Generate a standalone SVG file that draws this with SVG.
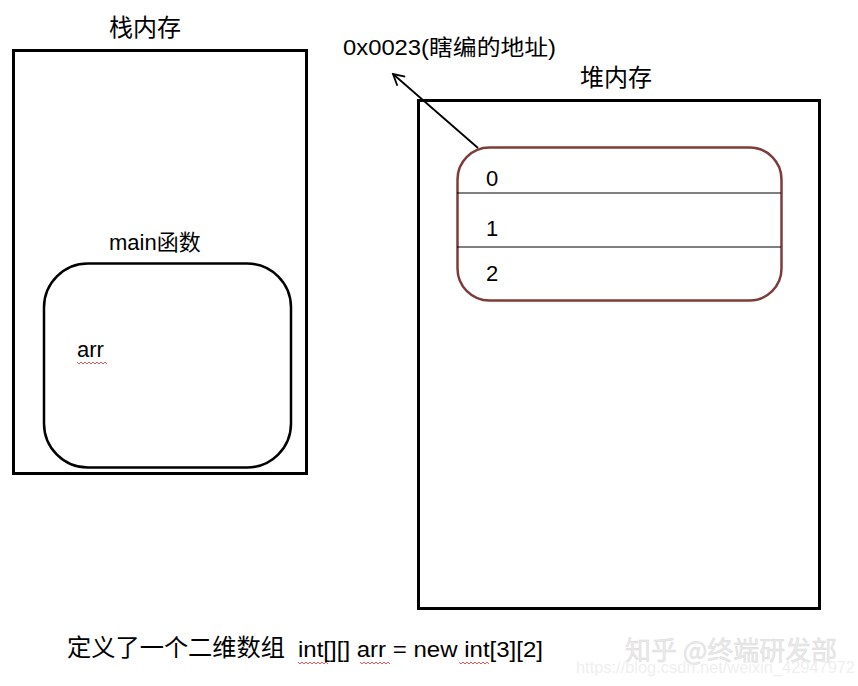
<svg xmlns="http://www.w3.org/2000/svg" width="858" height="686" viewBox="0 0 858 686">
<defs>
<style>
.t{font-family:"Liberation Sans","Noto Sans CJK SC",sans-serif;fill:#000}
.box{fill:none;stroke:#000;stroke-width:3}
.wave{fill:none;stroke:#e03030;stroke-width:0.8}
</style>
<marker id="ah" markerWidth="14" markerHeight="14" refX="12" refY="7" orient="auto" markerUnits="userSpaceOnUse">
<path d="M1,1 L12,7 L1,13" fill="none" stroke="#000" stroke-width="1.8"/>
</marker>
</defs>
<rect width="858" height="686" fill="#fff"/>
<g id="stack">
<text class="t" x="109" y="36" font-size="24">栈内存</text>
<rect class="box" x="13.5" y="50.5" width="293" height="423"/>
</g>
<g id="main">
<text class="t" x="109" y="250" font-size="22">main函数</text>
<rect x="44" y="263.5" width="247" height="204" rx="44" fill="none" stroke="#000" stroke-width="2.5"/>
<text class="t" x="77" y="357" font-size="22">arr</text>
<path class="wave" d="M77,362 l2,2 l2,-2 l2,2 l2,-2 l2,2 l2,-2 l2,2 l2,-2 l2,2 l2,-2 l2,2 l2,-2 l2,2 l2,-2 l2,2"/>
</g>
<g id="heap">
<text class="t" x="580" y="86" font-size="24">堆内存</text>
<rect class="box" x="418.5" y="100.5" width="401" height="508"/>
</g>
<g id="array">
<rect x="457.5" y="147.5" width="324" height="153" rx="32" fill="none" stroke="#7d3c3b" stroke-width="2.5"/>
<line x1="457" y1="193" x2="781" y2="193" stroke="#000" stroke-width="1"/>
<line x1="457" y1="247" x2="781" y2="247" stroke="#000" stroke-width="1"/>
<text class="t" x="486" y="186" font-size="22">0</text>
<text class="t" x="486" y="236" font-size="22">1</text>
<text class="t" x="486" y="281" font-size="22">2</text>
</g>
<g id="address">
<text class="t" x="343" y="55" font-size="22" textLength="213" lengthAdjust="spacingAndGlyphs">0x0023(瞎编的地址)</text>
</g>
<g id="connectors">
<line x1="478" y1="148" x2="393" y2="74" stroke="#000" stroke-width="1.8" marker-end="url(#ah)"/>
</g>
<g id="caption">
<text class="t" x="67" y="656" font-size="24" textLength="218" lengthAdjust="spacingAndGlyphs">定义了一个二维数组</text>
<text class="t" x="298" y="657" font-size="22" textLength="245" lengthAdjust="spacingAndGlyphs">int[][] arr = new int[3][2]</text>
<path class="wave" d="M298,662 l2,2 l2,-2 l2,2 l2,-2 l2,2 l2,-2 l2,2 l2,-2 l2,2 l2,-2 l2,2 l2,-2 l2,2 l2,-2 l2,2"/>
<path class="wave" d="M360,662 l2,2 l2,-2 l2,2 l2,-2 l2,2 l2,-2 l2,2 l2,-2 l2,2 l2,-2 l2,2 l2,-2 l2,2 l2,-2 l2,2"/>
<path class="wave" d="M459,662 l2,2 l2,-2 l2,2 l2,-2 l2,2 l2,-2 l2,2 l2,-2 l2,2 l2,-2 l2,2 l2,-2 l2,2 l2,-2 l2,2"/>
</g>
<g id="watermark" opacity="0.3">
<text x="625" y="660" font-family="'Noto Sans CJK SC',sans-serif" font-size="26" textLength="212" lengthAdjust="spacingAndGlyphs" fill="#bbb" stroke="#888" stroke-width="0.5">知乎 @终端研发部</text>
<text x="576" y="673" font-family="'Liberation Sans',sans-serif" font-size="17" textLength="279" lengthAdjust="spacingAndGlyphs" fill="#ccc">https://blog.csdn.net/weixin_42947972</text>
</g>
</svg>
